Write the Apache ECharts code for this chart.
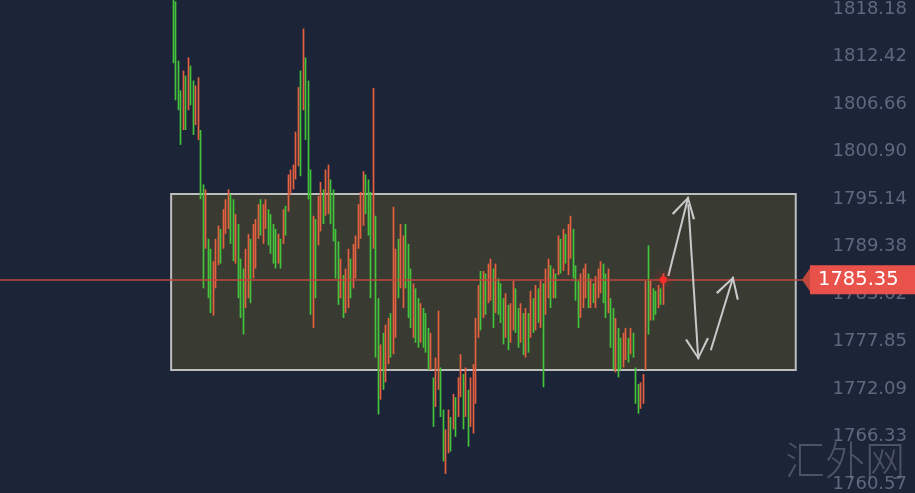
<!DOCTYPE html>
<html>
<head>
<meta charset="utf-8">
<script src="https://cdn.jsdelivr.net/npm/echarts@6/dist/echarts.min.js"></script>
<style>
html,body{margin:0;padding:0;background:#1c2438;}
#chart{width:915px;height:493px;}
</style>
</head>
<body>
<div id="chart"></div>
<script>
// ---- data ----
// y-axis tick labels (right side)
const tickValues = [1818.18, 1812.42, 1806.66, 1800.90, 1795.14, 1789.38, 1783.62, 1777.85, 1772.09, 1766.33, 1760.57];
// current price
const lastPrice = 1785.35;
// candles: [open, close, low, high]
const candles = [
[1819.5,1813.0,1811.6,1820.3],[1818,1808.5,1807.1,1819.1],[1811,1807,1805.9,1811.9],[1807.5,1803.5,1801.7,1808.3],
[1804.5,1809.5,1803.5,1810.7],[1809.5,1805,1803.5,1810.1],[1806.5,1811.2,1805.9,1812.3],[1811,1807.5,1806.5,1811.3],
[1808.5,1804,1802.9,1809.5],[1804.5,1808,1804.1,1808.9],[1803,1809,1802.3,1809.9],[1803,1796.5,1795.1,1803.5],
[1796,1788,1784.3,1796.9],[1789.5,1794.5,1789.1,1796.3],[1790,1784.5,1783.1,1790.3],[1788,1782.5,1781.3,1789.1],
[1781.8,1786.8,1781.0,1787.6],[1785,1789.5,1784.3,1790.3],[1788,1791.5,1787.1,1791.9],[1791,1788,1787.3,1791.5],
[1789.5,1793.5,1789.1,1793.9],[1791.5,1794.5,1790.9,1795.1],[1792,1796,1791.5,1796.3],[1795.5,1790.5,1789.7,1795.7],
[1794,1788.5,1787.6,1795.1],[1788,1792,1787.3,1793.3],[1791.5,1784,1783.1,1792.1],[1787,1781.5,1780.7,1787.9],
[1786,1780,1778.7,1786.7],[1782.5,1788.5,1781.9,1789.1],[1784,1790,1783.1,1790.9],[1789.5,1784,1782.5,1790.3],
[1786,1791.5,1785.5,1792.1],[1787.5,1792,1786.7,1792.7],[1791,1794,1790.3,1794.5],[1794.5,1791.5,1790.7,1795.1],
[1790.5,1794,1789.7,1794.5],[1792,1794.8,1791.5,1795.1],[1793.5,1790,1789.5,1793.9],[1793,1789.5,1788.5,1793.3],
[1791.5,1788,1787.3,1792.1],[1791,1787.5,1786.7,1791.5],[1787.8,1790.5,1787.3,1790.9],[1790,1787.5,1786.7,1790.3],
[1790,1793.5,1789.7,1793.9],[1793.8,1791.5,1790.7,1794.3],[1794,1797.5,1793.6,1798.1],[1796,1798.5,1795.7,1798.7],
[1796.8,1799,1796.3,1799.3],[1798,1802.5,1797.5,1803.3],[1800,1808,1799.1,1808.7],[1808.5,1802,1797.9,1810.7],
[1806.5,1814.5,1805.9,1815.8],[1812,1803,1802.3,1812.3],[1808.5,1796,1795.1,1809.5],[1797.5,1783,1781.1,1798.7],
[1781,1791.5,1779.5,1793.1],[1792,1785,1783.1,1792.7],[1790,1795,1789.5,1795.5],[1792,1796.5,1791.2,1797.2],
[1796,1793,1792.1,1796.3],[1794,1798,1793.1,1798.7],[1794.5,1798.5,1793.3,1799.3],[1797,1793,1792.1,1797.5],
[1795.5,1791,1790,1796.3],[1791,1786.5,1785.5,1791.5],[1789,1783.5,1782.3,1790],[1784,1787,1783.1,1787.9],
[1785.5,1781.5,1780.7,1785.9],[1782,1786,1781.3,1786.7],[1783,1788,1781.9,1789.1],[1787.5,1784,1783.1,1787.9],
[1785,1789,1784.3,1789.7],[1786,1790,1785.5,1790.7],[1789.8,1794,1789.1,1794.5],[1791,1795.5,1790.3,1796],
[1792.5,1798,1791.9,1798.5],[1797.5,1794,1793.3,1798.1],[1797,1791.5,1790.7,1797.5],[1795,1784.5,1783.1,1796],
[1790,1793,1789.1,1808.6],[1792.5,1777,1775.9,1793.1],[1782,1771,1769,1783.1],[1771.5,1776.5,1770.8,1777.5],
[1778,1773.5,1772,1778.9],[1773.5,1779,1772.9,1779.9],[1776,1780,1775.1,1780.7],[1781,1777,1775.9,1781.3],
[1777,1785,1776.3,1794.2],[1779,1787.5,1778.3,1789.1],[1789.5,1784,1783.1,1790.3],[1785,1791,1784.3,1792.1],
[1783,1789.5,1781.9,1790.7],[1791.5,1785.5,1784.3,1792.1],[1789,1782,1780.7,1789.7],[1786,1780.5,1779.5,1786.7],
[1779,1784,1778.3,1784.9],[1783.5,1778.5,1777.7,1784.3],[1782.5,1778,1777.1,1783.1],[1778.5,1782,1777.7,1782.5],
[1781.5,1778,1777.1,1781.9],[1781,1777.5,1776.5,1781.3],[1779,1775.5,1774.4,1779.5],[1775,1778.5,1774.4,1778.9],
[1773,1768.5,1767.5,1773.5],[1770.5,1775,1769.9,1775.9],[1773,1780.5,1772,1781.6],[1774,1769.5,1768.7,1774.7],
[1769,1764,1763.3,1769.6],[1762.5,1766.5,1761.8,1767.2],[1765,1769,1764.3,1769.6],[1768.5,1765.5,1764.5,1768.7],
[1768,1771,1767.2,1771.5],[1770.5,1767.5,1766.3,1771.1],[1769.5,1773,1768.7,1773.5],[1772,1775.8,1771.1,1776.3],
[1773.5,1768.5,1767.2,1773.9],[1769.5,1774,1768.7,1774.7],[1771.5,1766,1765.1,1772],[1768,1773,1767.5,1773.5],
[1767.5,1774.5,1766.7,1775.1],[1771,1780,1770.3,1780.7],[1779,1784,1778.3,1784.7],[1786,1780,1779.2,1786.4],
[1781.5,1786,1780.7,1786.4],[1785.8,1782,1781.1,1786.1],[1783,1787,1782.5,1787.3],[1783.5,1787.5,1782.8,1787.9],
[1786,1780.5,1779.5,1786.7],[1782,1786.8,1781.3,1787.3],[1785,1782,1781.1,1785.5],[1784.5,1781,1780.1,1784.9],
[1782.5,1778.5,1777.5,1783.1],[1779,1783,1778.3,1783.7],[1782,1777.5,1776.8,1782.3],[1778.5,1782,1777.7,1782.5],
[1780,1784.8,1779.2,1785.2],[1784,1779.5,1778.9,1784.3],[1781.5,1778,1777.1,1781.9],[1778.5,1782,1777.7,1782.5],
[1781,1777,1776.2,1781.3],[1776.5,1781.5,1775.9,1781.9],[1781,1777.5,1776.5,1781.3],[1779,1783.5,1778.3,1784],
[1782.8,1779.5,1778.9,1783.1],[1780,1784,1779.2,1784.7],[1784,1781,1780.1,1784.3],[1780.5,1784.8,1779.5,1785.2],
[1784.5,1780,1772.3,1784.9],[1781.5,1786,1781.1,1786.7],[1783.5,1787.5,1783.1,1787.9],[1786.8,1782.8,1781.9,1787.1],
[1783.5,1786.3,1783.1,1786.7],[1786,1783.5,1783.1,1786.1],[1786.5,1790,1785.9,1790.7],[1790,1787,1786.1,1790.3],
[1787,1791,1786.4,1791.5],[1790.5,1788,1787.3,1790.9],[1786.5,1791.5,1785.9,1792.1],[1788.5,1792.7,1787.9,1793.1],
[1791,1786,1785.5,1791.5],[1786.8,1783.5,1782.8,1787.1],[1785,1780.5,1779.5,1785.2],[1781.5,1785.5,1780.7,1786.1],
[1782.5,1786.2,1781.9,1786.7],[1783.8,1787,1783.1,1787.3],[1785.8,1782.5,1781.9,1786.1],[1782.3,1785,1781.9,1785.5],
[1784.7,1783,1782.5,1784.9],[1782.5,1785.3,1781.9,1785.8],[1783.5,1786.3,1783.1,1786.7],[1784,1787.2,1783.7,1787.6],
[1787,1783.2,1782.5,1787.3],[1785.8,1781.5,1780.7,1786.1],[1782,1786,1781.3,1786.7],[1782.8,1778,1777.1,1783.1],
[1781.5,1775.5,1774.4,1781.9],[1775,1780,1774.1,1780.7],[1779,1774.5,1773.5,1779.5],[1778,1775,1774.4,1778.3],
[1775.2,1778.5,1774.7,1778.9],[1776,1779.2,1775.6,1779.5],[1778,1775.8,1775.3,1778.3],[1776.8,1779.2,1776.3,1779.5],
[1778.7,1776.3,1775.9,1778.9],[1774.4,1771,1770.3,1774.7],[1772.4,1769.6,1769.1,1772.7],[1770,1772.5,1769.7,1772.9],
[1770.7,1773.5,1770.3,1773.9],[1774.8,1784.5,1774.4,1785.2],[1785,1780,1778.7,1789.5],[1781,1784.8,1780.4,1785.2],
[1784,1781,1780.4,1784.3],[1783.5,1781.5,1781.1,1784],[1782.2,1784.4,1781.9,1784.7],[1784,1782.8,1782.3,1784.3],
[1782.8,1785.35,1782.3,1786.1]
];
// range box (category index, price)
const boxStart = 68, boxEnd = 318;
const boxTop = 1795.74, boxBottom = 1774.4;
// projected arrows: [fromIdx, fromPrice, toIdx, toPrice]
const arrows = [
  [267, 1785.8, 275, 1795.4],
  [275, 1794.5, 279, 1775.7],
  [284, 1776.8, 293, 1785.7]
];

// ---- layout constants ----
const totalSlots = 323;
const leadEmpty = 69;
const yMin = 1759.97, yMax = 1819.14;

const categories = [];
for (let i = 0; i < totalSlots; i++) categories.push(String(i));
const seriesData = [];
for (let i = 0; i < totalSlots; i++) {
  const c = candles[i - leadEmpty];
  seriesData.push(c ? c : '-');
}
const lastIdx = leadEmpty + candles.length - 1;

const chevron = 'path://M10,0L10.01,0M10,20L20,40L18.3,41L10,23.5L1.7,41L0,40Z';
const pointer = 'path://M0,0L20,0L10,10Z';

const chart = echarts.init(document.getElementById('chart'));
chart.setOption({
  backgroundColor: '#1c2438',
  animation: false,
  grid: {left: 0, right: 108, top: 0, bottom: 0},
  xAxis: {
    type: 'category', data: categories, show: false, boundaryGap: true
  },
  yAxis: {
    type: 'value', position: 'right', min: yMin, max: yMax,
    axisLine: {show: false}, axisTick: {show: false}, splitLine: {show: false},
    axisLabel: {
      customValues: tickValues,
      formatter: v => Number(v).toFixed(2),
      color: '#5f697d', fontSize: 18, fontFamily: 'DejaVu Sans',
      align: 'right', margin: 100
    }
  },
  graphic: [{
    type: 'text', left: 785, top: 440, z: 100,
    style: {text: '汇外网', fontSize: 40, fontFamily: 'Noto Sans CJK SC', fontWeight: 300, fill: 'rgba(125,130,140,0.5)'}
  }],
  series: [{
    type: 'candlestick',
    data: seriesData,
    barWidth: 0.6,
    clip: true,
    itemStyle: {
      color: '#e5603f', color0: '#44c43a',
      borderColor: '#e5603f', borderColor0: '#44c43a', borderWidth: 1.7
    },
    markArea: {
      silent: true,
      itemStyle: {color: 'rgba(111,102,42,0.35)', borderColor: '#bdbdbd', borderWidth: 2},
      data: [[{coord: [boxStart, boxTop]}, {coord: [boxEnd, boxBottom]}]]
    },
    markLine: {
      silent: true,
      symbol: ['none', pointer],
      symbolSize: [29, 10],
      lineStyle: {color: '#c0483f', width: 1.5, type: 'solid'},
      label: {
        show: true, position: 'end', distance: 3,
        formatter: () => lastPrice.toFixed(2),
        color: '#ffffff', backgroundColor: '#e9524a',
        padding: [4, 20, 4, 8], fontSize: 19.5, lineHeight: 21, fontFamily: 'DejaVu Sans'
      },
      itemStyle: {color: '#e9524a'},
      data: [{yAxis: lastPrice}]
    },
    markPoint: {
      silent: true,
      symbol: 'circle', symbolSize: 7,
      itemStyle: {color: '#ff2a2a', shadowBlur: 10, shadowColor: 'rgba(255,30,30,0.9)'},
      label: {show: false},
      data: [{coord: [lastIdx, lastPrice]}]
    }
  }, {
    type: 'line',
    data: [],
    markLine: {
      silent: true,
      symbol: ['none', chevron],
      symbolSize: [24, 42],
      lineStyle: {color: '#c9c9c9', width: 2, type: 'solid'},
      itemStyle: {color: '#c9c9c9'},
      label: {show: false},
      data: arrows.map(a => [{coord: [a[0], a[1]]}, {coord: [a[2], a[3]]}])
    }
  }]
});
</script>
</body>
</html>
